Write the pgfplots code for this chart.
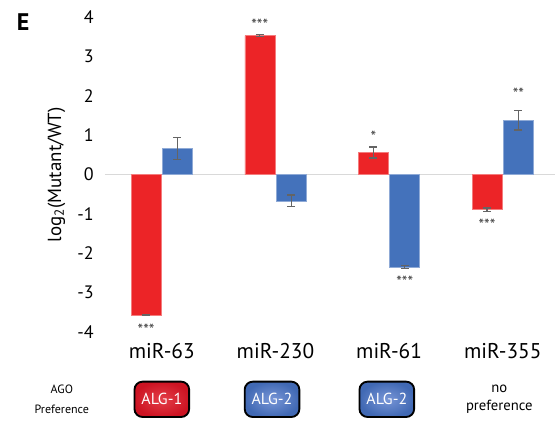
\documentclass[border=0pt]{standalone}
\usepackage{fontspec}
\setmainfont{PT Sans}
\usepackage{pgfplots}
\pgfplotsset{compat=1.18}
\definecolor{barred}{RGB}{236,36,39}
\definecolor{barblue}{RGB}{68,114,187}
\definecolor{errgray}{RGB}{100,100,100}
\begin{document}
\begin{tikzpicture}
\begin{axis}[
  name=ax, scale only axis, width=337.5pt, height=236.25pt,
  xmin=-0.5, xmax=3.46, ymin=-4, ymax=4,
  ybar=1pt, bar width=22.5pt,
  axis line style={draw=none},
  ytick={-4,-3,-2,-1,0,1,2,3,4},
  xtick={0,1,2,3}, xticklabels={miR-63,miR-230,miR-61,miR-355},
  major tick length=0pt,
  /pgf/number format/assume math mode=true,
  yticklabel style={font=\fontsize{13.5}{15}\selectfont, xshift=-5pt},
  xticklabel style={font=\fontsize{16}{18}\selectfont, yshift=-5pt},
  extra y ticks={0}, extra y tick labels={},
  extra y tick style={grid=major, major grid style={color=black!15, line width=0.8pt}},
  clip=false,
  ylabel={log\textsubscript{2}(Mutant/WT)},
  ylabel style={font=\fontsize{14.2}{16}\selectfont, at={(axis description cs:-0.108,0.5)}, anchor=center},
  error bars/error bar style={color=errgray, line width=0.9pt},
  error bars/error mark options={rotate=90, mark size=3pt, line width=0.9pt, color=errgray},
]
\addplot[fill=barred, draw=barred!60!white, line width=0.4pt,
  error bars/.cd, y dir=both, y explicit]
  coordinates {(0,-3.57) +- (0,0.02) (1,3.53) +- (0,0.03) (2,0.56) +- (0,0.14) (3,-0.89) +- (0,0.04)};
\addplot[fill=barblue, draw=barblue!60!white, line width=0.4pt,
  error bars/.cd, y dir=both, y explicit]
  coordinates {(0,0.66) +- (0,0.28) (1,-0.67) +- (0,0.15) (2,-2.35) +- (0,0.03) (3,1.38) +- (0,0.25)};
\tikzset{star/.style={font=\fontsize{12}{12}\selectfont, text=black!75, yshift=-2pt}}
\node[star] at (axis cs:-0.138,-3.88) {***};
\node[star] at (axis cs:0.862,3.86) {***};
\node[star] at (axis cs:1.862,1.02) {*};
\node[star] at (axis cs:2.138,-2.66) {***};
\node[star] at (axis cs:2.862,-1.22) {***};
\node[star] at (axis cs:3.138,2.11) {**};
\node[font=\bfseries\fontsize{18}{20}\selectfont] at (axis cs:-1.22,3.88) {E};
\node[font=\fontsize{9}{15.5}\selectfont, align=center] at (axis cs:-0.88,-5.71) {AGO\\Preference};
\node[draw=black, line width=1.4pt, rounded corners=6pt, minimum width=41pt, minimum height=26.5pt,
  inner color={rgb,255:red,228;green,62;blue,72}, outer color={rgb,255:red,205;green,20;blue,35},
  text=white, font=\fontsize{12}{14}\selectfont] at (axis cs:0,-5.71) {ALG-1};
\node[draw=black, line width=1.4pt, rounded corners=6pt, minimum width=41pt, minimum height=26.5pt,
  inner color={rgb,255:red,120;green,150;blue,215}, outer color={rgb,255:red,65;green,105;blue,180},
  text=white, font=\fontsize{12}{14}\selectfont] at (axis cs:0.97,-5.71) {ALG-2};
\node[draw=black, line width=1.4pt, rounded corners=6pt, minimum width=41pt, minimum height=26.5pt,
  inner color={rgb,255:red,120;green,150;blue,215}, outer color={rgb,255:red,65;green,105;blue,180},
  text=white, font=\fontsize{12}{14}\selectfont] at (axis cs:1.98,-5.71) {ALG-2};
\node[font=\fontsize{11}{13.5}\selectfont, align=center] at (axis cs:2.97,-5.71) {no\\preference};
\end{axis}
\pgfresetboundingbox
\path (ax.south west) ++(-78.75pt,-69.75pt) rectangle ++(418.5pt,318.75pt);
\end{tikzpicture}
\end{document}
